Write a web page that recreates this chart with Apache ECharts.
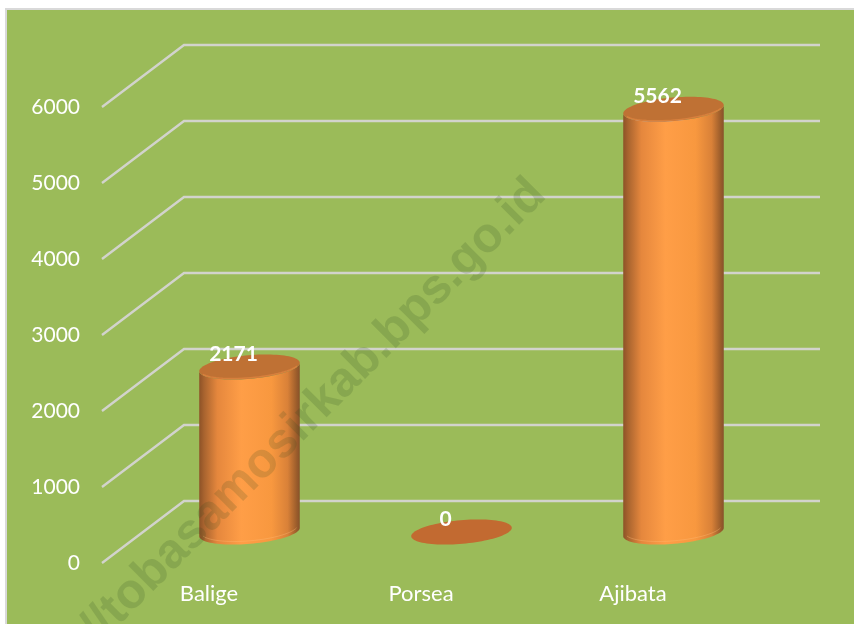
<!DOCTYPE html>
<html><head><meta charset="utf-8">
<style>html,body{margin:0;padding:0;background:#fff}#c{width:854px;height:624px}</style>
<script src="https://cdn.jsdelivr.net/npm/echarts@6/dist/echarts.min.js"></script>
</head><body><div id="c"></div>
<script>
const categories = ['Balige','Porsea','Ajibata'];
const values = [2171,0,5562];
const yTicks = [0,1000,2000,3000,4000,5000,6000];
const watermark = 'http://tobasamosirkab.bps.go.id';

const DEPTH_X = 81, DEPTH_Y = 62, TILT = -5*Math.PI/180, RATIO = 0.238, MINOR = 11.8;
const font = 'Lato, "Open Sans", sans-serif';

function ellipsePts(cx,cy,a,b,t0,t1,n){
  const p=[];
  for(let i=0;i<=n;i++){
    const t=t0+(t1-t0)*i/n;
    p.push([cx+a*Math.cos(t)*Math.cos(TILT)-b*Math.sin(t)*Math.sin(TILT),
            cy+a*Math.cos(t)*Math.sin(TILT)+b*Math.sin(t)*Math.cos(TILT)]);
  }
  return p;
}
function renderBar(params,api){
  const i=api.value(0), v=api.value(1);
  const base=api.coord([i,0]), top=api.coord([i,v]);
  const cx=base[0]+DEPTH_X/2, by=base[1]-DEPTH_Y/2, ty=top[1]-DEPTH_Y/2;
  const a=api.size([1,0])[0]*RATIO, b=MINOR;
  const kids=[];
  if(v>0){
    const body=ellipsePts(cx,ty,a,b,Math.PI,0,48)
      .concat(ellipsePts(cx,by,a,b,0,Math.PI,48));
    kids.push({type:'polygon',shape:{points:body},style:{fill:{type:'linear',x:0,y:0,x2:1,y2:0,colorStops:[
      {offset:0,color:'#8d5227'},{offset:0.05,color:'#a9642f'},{offset:0.18,color:'#e5873d'},
      {offset:0.42,color:'#ff9e47'},{offset:0.72,color:'#f8983f'},{offset:0.88,color:'#d98138'},
      {offset:0.97,color:'#9a5c2b'},{offset:1,color:'#87512a'}]}}});
    kids.push({type:'polyline',shape:{points:ellipsePts(cx,by-3,a-2,b,0.25,Math.PI-0.25,30)},
      style:{fill:null,stroke:'rgba(255,190,120,0.35)',lineWidth:1}});
  }
  kids.push({type:'polygon',shape:{points:ellipsePts(cx,ty,a,b,0,Math.PI*2,96)},
    style:{fill:v>0?'#bf7134':'#c26a31'}});
  if(v>0){
    kids.push({type:'polyline',shape:{points:ellipsePts(cx,ty,a-1,b-1,0.3,Math.PI-0.3,30)},
      style:{fill:null,stroke:'rgba(235,140,70,0.55)',lineWidth:1.5}});
  }
  kids.push({type:'text',style:{x:cx-16,y:ty-13,text:String(v),fill:'#fff',
    font:'bold 21px '+font,align:'center',verticalAlign:'middle'}});
  return {type:'group',children:kids};
}

const chart=echarts.init(document.getElementById('c'),null,{renderer:'canvas'});
chart.setOption({
  animation:false,
  backgroundColor:'#fff',
  grid:{left:103,top:107,width:636,height:456,containLabel:false},
  xAxis:{type:'category',data:categories,
    axisLine:{show:false},axisTick:{show:false},splitLine:{show:false},
    axisLabel:{color:'#fff',fontFamily:font,fontSize:22,margin:20}},
  yAxis:{type:'value',min:0,max:6000,interval:1000,
    axisLine:{show:false},axisTick:{show:false},splitLine:{show:false},
    axisLabel:{color:'#fff',fontFamily:font,fontSize:21,margin:23,padding:[5,0,0,0],formatter:v=>String(v)}},
  graphic:[
    {type:'rect',z:-10,silent:true,shape:{x:6,y:9,width:860,height:630},
      style:{fill:'#9bbb59',stroke:'#d9d9d9',lineWidth:2}},
    {type:'text',z:100,silent:true,x:538,y:187,rotation:Math.PI/4,
      style:{text:watermark,font:'bold 49px "Liberation Sans", Arial, sans-serif',
        fill:'rgba(40,70,30,0.17)',align:'right',verticalAlign:'middle'}}
  ],
  series:[
    {type:'custom',z:1,silent:true,clip:false,coordinateSystem:'cartesian2d',
      data:yTicks.map(t=>[t]),encode:{y:0},
      renderItem:(p,api)=>{
        const grid=p.coordSys, y=api.coord([0,yTicks[p.dataIndex]])[1];
        return {type:'polyline',silent:true,
          shape:{points:[[grid.x-1,y],[grid.x+DEPTH_X,y-DEPTH_Y],[grid.x+grid.width+DEPTH_X,y-DEPTH_Y]]},
          style:{fill:null,stroke:'#d2d3cc',lineWidth:2.4}};
      }},
    {type:'custom',z:5,silent:true,clip:false,coordinateSystem:'cartesian2d',
      data:values.map((v,i)=>[i,v]),encode:{x:0,y:1},renderItem:renderBar}
  ]
});
</script></body></html>
